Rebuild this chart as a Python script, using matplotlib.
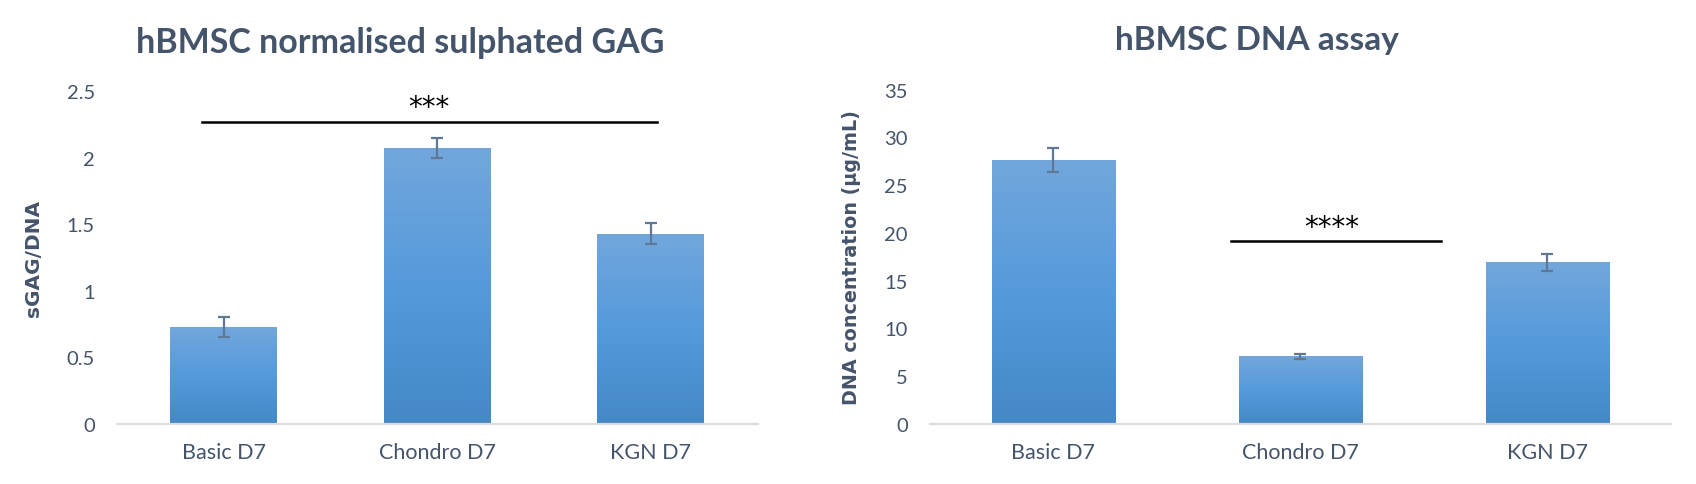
import numpy as np
import matplotlib
matplotlib.use("Agg")
import matplotlib.pyplot as plt
from matplotlib.colors import LinearSegmentedColormap

# data
groups = ["Basic D7", "Chondro D7", "KGN D7"]
gag_mean = [0.73, 2.07, 1.43]
gag_err = [0.076, 0.075, 0.08]
dna_mean = [27.6, 7.1, 16.95]
dna_err = [1.25, 0.25, 0.9]

TXT = "#44546A"
plt.rcParams['font.family'] = ['Lato', 'DejaVu Sans']

bar_cmap = LinearSegmentedColormap.from_list(
    "xl", ["#4488C7", "#559ADB", "#72A7DC"])


def gradient_bars(ax, bars):
    grad = np.linspace(0, 1, 256).reshape(-1, 1)
    for b in bars:
        x0, y0 = b.get_x(), b.get_y()
        w, h = b.get_width(), b.get_height()
        im = ax.imshow(grad, cmap=bar_cmap, aspect='auto', origin='lower',
                       extent=(x0, x0 + w, y0, y0 + h), zorder=2)
        im.set_clip_path(b)
        b.set_facecolor('none')


def style(ax, ymax, step):
    for s in ['top', 'right', 'left']:
        ax.spines[s].set_visible(False)
    ax.spines['bottom'].set_color('#D9DEE3')
    ax.spines['bottom'].set_linewidth(1.6)
    ax.set_xlim(-0.5, 2.5)
    ax.set_ylim(0, ymax)
    ax.set_yticks(np.arange(0, ymax + step / 2, step))
    ax.tick_params(axis='y', length=0, pad=16, labelsize=14.5, labelcolor=TXT)
    ax.tick_params(axis='x', length=0, pad=13, labelsize=15.5, labelcolor=TXT)
    ax.set_xticks(range(len(groups)))
    ax.set_xticklabels(groups)


fig = plt.figure(figsize=(16.96, 4.85), dpi=100)

# left: sGAG / DNA
ax1 = fig.add_axes([0.0690, 0.1237, 0.3777, 0.6866])
x = np.arange(len(groups))
bars = ax1.bar(x, gag_mean, width=0.5, zorder=2)
gradient_bars(ax1, bars)
ax1.errorbar(x, gag_mean, yerr=gag_err, fmt='none', ecolor='#5F7898',
             elinewidth=1.6, capsize=4.5, capthick=1.6, zorder=3)
style(ax1, 2.5, 0.5)
ax1.set_yticklabels(['0', '0.5', '1', '1.5', '2', '2.5'])
ax1.set_ylabel('sGAG/DNA', family='DejaVu Sans', fontweight='bold',
               fontsize=14.5, color=TXT)
ax1.yaxis.set_label_coords(-0.1155, 0.5)
ax1.plot([-0.10, 2.03], [2.27, 2.27], color='black', lw=1.8, clip_on=False)
ax1.text(0.96, 2.38, '***', ha='center', va='center', fontsize=20,
         color='black', family='DejaVu Sans')
fig.text(0.2358, 0.911, 'hBMSC normalised sulphated GAG', ha='center',
         va='center', fontsize=24.5, fontweight='bold', color=TXT)

# right: DNA concentration
ax2 = fig.add_axes([0.5483, 0.1237, 0.4369, 0.6893])
bars = ax2.bar(x, dna_mean, width=0.5, zorder=2)
gradient_bars(ax2, bars)
ax2.errorbar(x, dna_mean, yerr=dna_err, fmt='none', ecolor='#5F7898',
             elinewidth=1.6, capsize=4.5, capthick=1.6, zorder=3)
style(ax2, 35, 5)
ax2.set_ylabel('DNA concentration (µg/mL)', family='DejaVu Sans',
               fontweight='bold', fontsize=13.8, color=TXT)
ax2.yaxis.set_label_coords(-0.093, 0.5)
ax2.plot([0.72, 1.57], [19.16, 19.16], color='black', lw=1.8)
ax2.text(1.125, 20.6, '****', ha='center', va='center', fontsize=20,
         color='black', family='DejaVu Sans')
fig.text(0.7412, 0.9175, 'hBMSC DNA assay', ha='center', va='center',
         fontsize=24, fontweight='bold', color=TXT)

fig.savefig('out.png', dpi=100)
